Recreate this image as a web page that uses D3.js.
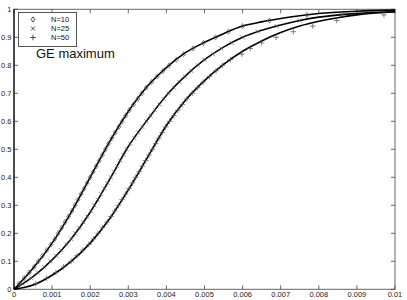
<!DOCTYPE html>
<html><head><meta charset="utf-8">
<script src="https://cdn.jsdelivr.net/npm/d3@7"></script>
<style>html,body{margin:0;padding:0;background:#fff;}svg{display:block;font-family:"Liberation Sans",Arial,sans-serif;}</style>
</head><body><svg id="c" width="407" height="300"></svg>
<script>
// ---- data (x in units of 1e-3) ----
const xTicks = [0,0.001,0.002,0.003,0.004,0.005,0.006,0.007,0.008,0.009,0.01];
const xTickLabels = ["0","0.001","0.002","0.003","0.004","0.005","0.006","0.007","0.008","0.009","0.01"];
const yTicks = [0,0.1,0.2,0.3,0.4,0.5,0.6,0.7,0.8,0.9,1];
const yTickLabels = ["0","0.1","0.2","0.3","0.4","0.5","0.6","0.7","0.8","0.9","1"];
const seriesNames = ["N=10","N=25","N=50"];

// fitted curves
const curveX10 = [0,0.5,1,1.5,2,2.5,3,3.5,4,4.5,5,5.5,6,6.5,7,7.5,8,9,10];
const curveY10 = [0,0.075,0.165,0.275,0.4,0.525,0.635,0.725,0.792,0.845,0.882,0.913,0.94,0.955,0.967,0.977,0.985,0.993,0.997];
const curveX25 = [0,0.5,1,1.5,2,2.5,3,3.5,4,4.5,5,5.5,6,6.5,7,7.5,8,9,10];
const curveY25 = [0,0.045,0.105,0.18,0.275,0.39,0.51,0.605,0.692,0.762,0.82,0.865,0.9,0.925,0.944,0.96,0.972,0.985,0.991];
const curveX50 = [0,0.5,1,1.5,2,2.5,3,3.5,4,4.5,5,5.5,6,6.5,7,7.5,8,8.5,9,10];
const curveY50 = [0,0.015,0.05,0.1,0.165,0.25,0.355,0.47,0.585,0.675,0.745,0.803,0.85,0.887,0.917,0.94,0.957,0.97,0.98,0.991];

// empirical markers
const markP = [0.02,0.04,0.06,0.08,0.10,0.12,0.14,0.16,0.18,0.20,0.22,0.24,0.26,0.28,0.30,0.32,0.34,0.36,0.38,0.40,0.42,0.44,0.46,0.48,0.50,0.52,0.54,0.56,0.58,0.60,0.62,0.64,0.66,0.68,0.70,0.72,0.74,0.76,0.78,0.80,0.82,0.84,0.86,0.88,0.90,0.92,0.94,0.96,0.98];
const markX10 = [0.133,0.267,0.4,0.528,0.639,0.75,0.861,0.972,1.068,1.159,1.25,1.341,1.432,1.52,1.6,1.68,1.76,1.84,1.92,2.0,2.08,2.16,2.24,2.32,2.4,2.48,2.568,2.659,2.75,2.841,2.932,3.028,3.139,3.25,3.361,3.472,3.612,3.761,3.91,4.075,4.264,4.453,4.703,4.973,5.29,5.63,6.0,6.708,7.688];
const markX25 = [0.222,0.444,0.625,0.792,0.958,1.1,1.233,1.367,1.5,1.605,1.711,1.816,1.921,2.022,2.109,2.196,2.283,2.37,2.457,2.542,2.625,2.708,2.792,2.875,2.958,3.053,3.158,3.263,3.368,3.474,3.586,3.701,3.816,3.931,4.057,4.2,4.343,4.486,4.655,4.828,5.0,5.222,5.444,5.714,6.0,6.4,6.895,7.5,8.615];
const markX50 = [0.571,0.857,1.1,1.3,1.5,1.654,1.808,1.962,2.088,2.206,2.324,2.441,2.548,2.643,2.738,2.833,2.929,3.022,3.109,3.196,3.283,3.37,3.457,3.543,3.63,3.717,3.804,3.891,3.978,4.083,4.194,4.306,4.417,4.536,4.679,4.821,4.964,5.129,5.302,5.474,5.681,5.98,6.2,6.5,6.88,7.33,7.84,8.47,9.71];

const titleText = "GE maximum";

// ---- chart ----
const svg = d3.select("#c");
const L = 14, R = 395, T = 9.3, B = 289.3;
const x = d3.scaleLinear().domain([0,0.01]).range([L,R]);
const y = d3.scaleLinear().domain([0,1]).range([B,T]);
const line = d3.line().x(d=>x(d[0]*1e-3)).y(d=>y(d[1])).curve(d3.curveMonotoneX);

// frame
svg.append("rect").attr("x",L).attr("y",T).attr("width",R-L).attr("height",B-T)
  .attr("fill","none").attr("stroke","#666").attr("stroke-width",1);

const tl = 4;
const g = svg.append("g").attr("stroke","#444").attr("stroke-width",0.8);
xTicks.forEach(t=>{
  g.append("line").attr("x1",x(t)).attr("x2",x(t)).attr("y1",B).attr("y2",B-tl);
  g.append("line").attr("x1",x(t)).attr("x2",x(t)).attr("y1",T).attr("y2",T+tl);
});
yTicks.forEach(t=>{
  g.append("line").attr("x1",L).attr("x2",L+tl).attr("y1",y(t)).attr("y2",y(t));
  g.append("line").attr("x1",R).attr("x2",R-tl).attr("y1",y(t)).attr("y2",y(t));
});
// left axis darker
svg.append("line").attr("x1",L).attr("x2",L).attr("y1",T).attr("y2",B).attr("stroke","#111").attr("stroke-width",1.3);

svg.append("g").selectAll("text").data(xTicks).join("text")
  .attr("x",(d,i)=>x(d)).attr("y",297).attr("text-anchor","middle")
  .attr("font-size",7.5).attr("fill","#222").text((d,i)=>xTickLabels[i]);
svg.append("g").selectAll("text").data(yTicks).join("text")
  .attr("x",11.5).attr("y",d=>y(d)+2.7).attr("text-anchor","end")
  .attr("font-size",7.5).attr("fill","#222").text((d,i)=>yTickLabels[i]);

// curves
[[curveX10,curveY10],[curveX25,curveY25],[curveX50,curveY50]].forEach(([cx,cy])=>{
  svg.append("path").attr("d",line(cx.map((v,i)=>[v,cy[i]])))
    .attr("fill","none").attr("stroke","#000").attr("stroke-width",1.6);
});

// markers
const mk = svg.append("g").attr("fill","none").attr("stroke","#555").attr("stroke-width",0.7);
function diamond(g,cx,cy,s){g.append("path").attr("d",`M${cx},${cy-s}L${cx+s*0.75},${cy}L${cx},${cy+s}L${cx-s*0.75},${cy}Z`);}
function cross(g,cx,cy,s){g.append("path").attr("d",`M${cx-s},${cy-s}L${cx+s},${cy+s}M${cx-s},${cy+s}L${cx+s},${cy-s}`);}
function plus(g,cx,cy,s){g.append("path").attr("d",`M${cx-s},${cy}L${cx+s},${cy}M${cx},${cy-s}L${cx},${cy+s}`);}
markP.forEach((p,i)=>{
  diamond(mk,x(markX10[i]*1e-3),y(p),2.6);
  cross(mk,x(markX25[i]*1e-3),y(p),2);
  plus(mk,x(markX50[i]*1e-3),y(p),2.8);
});

// legend
const lg = svg.append("g");
lg.append("rect").attr("x",18.5).attr("y",12.5).attr("width",58).attr("height",34)
  .attr("fill","#fff").attr("stroke","#555").attr("stroke-width",1);
const ly = [19.5,28.5,37.5];
const lm = lg.append("g").attr("fill","none").attr("stroke","#222").attr("stroke-width",0.8);
diamond(lm,33,ly[0],2.6); cross(lm,33,ly[1],2); plus(lm,33,ly[2],2.8);
lg.selectAll("text.l").data(seriesNames).join("text").attr("class","l")
  .attr("x",51).attr("y",(d,i)=>ly[i]+2.7).attr("font-size",7.5).attr("fill","#111").text(d=>d);

svg.append("text").attr("x",36).attr("y",58).attr("font-size",13).attr("fill","#111").text(titleText);
</script></body></html>
